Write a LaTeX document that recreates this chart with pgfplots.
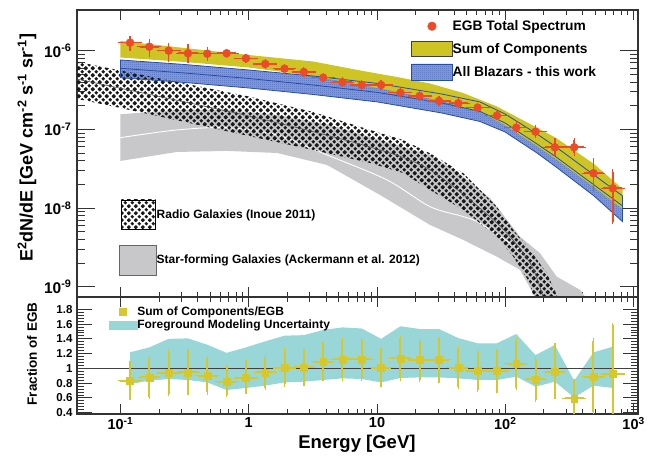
\documentclass[border=0pt]{standalone}
\usepackage{fontspec}
\setmainfont{Liberation Sans}
\usepackage{pgfplots}
\pgfplotsset{compat=1.18}
\usepackage{pgfplotstable}
\usetikzlibrary{patterns,patterns.meta}

\definecolor{egbred}{RGB}{236,74,40}
\definecolor{sumyel}{RGB}{206,196,36}
\definecolor{ratioyel}{RGB}{214,200,44}
\definecolor{fgcyan}{RGB}{152,214,216}
\definecolor{sfggray}{RGB}{200,200,203}
\definecolor{blzline}{RGB}{38,78,165}
\definecolor{blzfill}{RGB}{140,158,214}
\definecolor{blzdot}{RGB}{60,92,185}

\tikzdeclarepattern{
  name=rgdiam, type=uncolored,
  bounding box={(0pt,0pt) and (7.2pt,7.2pt)},
  tile size={(7.2pt,7.2pt)},
  code={
    \fill (0pt,-2pt) -- (2pt,0pt) -- (0pt,2pt) -- (-2pt,0pt) -- cycle;
    \fill (7.2pt,-2pt) -- (9.2pt,0pt) -- (7.2pt,2pt) -- (5.2pt,0pt) -- cycle;
    \fill (0pt,5.2pt) -- (2pt,7.2pt) -- (0pt,9.2pt) -- (-2pt,7.2pt) -- cycle;
    \fill (7.2pt,5.2pt) -- (9.2pt,7.2pt) -- (7.2pt,9.2pt) -- (5.2pt,7.2pt) -- cycle;
    \fill (3.6pt,1.6pt) -- (5.6pt,3.6pt) -- (3.6pt,5.6pt) -- (1.6pt,3.6pt) -- cycle;
  }
}
\tikzdeclarepattern{
  name=blzpat, type=uncolored,
  bounding box={(0pt,0pt) and (2pt,2pt)},
  tile size={(2pt,2pt)},
  code={
    \fill (0pt,0pt) rectangle (0.9pt,0.9pt);
    \fill (1pt,1pt) rectangle (1.9pt,1.9pt);
  }
}

% EGB total spectrum: E [GeV], flux, upper, lower
\pgfplotstableread{
E F Fhi Flo
0.1189 1.264e-6 1.44e-6 1.073e-6
0.1681 1.124e-6 1.328e-6 0.882e-6
0.2378 1.000e-6 1.157e-6 0.778e-6
0.3363 0.927e-6 1.124e-6 0.755e-6
0.4756 0.916e-6 1.051e-6 0.785e-6
0.6726 0.927e-6 0.991e-6 0.856e-6
0.9511 0.800e-6 0.856e-6 0.740e-6
1.345 0.678e-6 0.730e-6 0.630e-6
1.902 0.590e-6 0.635e-6 0.548e-6
2.690 0.536e-6 0.577e-6 0.498e-6
3.804 0.454e-6 0.489e-6 0.422e-6
5.379 0.397e-6 0.427e-6 0.369e-6
7.607 0.366e-6 0.394e-6 0.340e-6
10.76 0.366e-6 0.394e-6 0.340e-6
15.21 0.2925e-6 0.3147e-6 0.2718e-6
21.51 0.2657e-6 0.2859e-6 0.2469e-6
30.42 0.2296e-6 0.2470e-6 0.2134e-6
43.02 0.2146e-6 0.2309e-6 0.1994e-6
60.83 0.1887e-6 0.2030e-6 0.1754e-6
86.03 0.1493e-6 0.1606e-6 0.1388e-6
121.7 0.1051e-6 0.1148e-6 0.0962e-6
172.0 0.0935e-6 0.1051e-6 0.0832e-6
243.3 0.0592e-6 0.0719e-6 0.0497e-6
344.1 0.0592e-6 0.0733e-6 0.0497e-6
486.6 0.02767e-6 0.0400e-6 0.01699e-6
688.1 0.01785e-6 0.0290e-6 0.00672e-6
}\egbtable

% Ratio (sum of components / EGB)
\pgfplotstableread{
E R Rhi Rlo
0.1189 0.833 1.068 0.600
0.1681 0.878 1.135 0.617
0.2378 0.938 1.226 0.653
0.3363 0.946 1.230 0.667
0.4756 0.901 1.135 0.675
0.6726 0.820 1.014 0.640
0.9511 0.870 1.077 0.690
1.345 0.946 1.158 0.735
1.902 1.005 1.240 0.783
2.690 1.014 1.230 0.790
3.804 1.091 1.330 0.856
5.379 1.122 1.385 0.865
7.607 1.122 1.385 0.865
10.76 1.010 1.240 0.775
15.21 1.135 1.406 0.865
21.51 1.114 1.375 0.843
30.42 1.118 1.389 0.833
43.02 1.010 1.270 0.752
60.83 0.965 1.217 0.712
86.03 0.965 1.236 0.694
121.7 1.064 1.375 0.735
172.0 0.851 1.127 0.576
243.3 0.955 1.317 0.613
344.1 0.594 0.824 0.300
486.6 0.888 1.375 0.414
688.1 0.924 1.582 0.300
}\ratiotable

\begin{document}
\begin{tikzpicture}
\useasboundingbox (0pt,0pt) rectangle (656pt,457pt);

% ---------------- upper panel ----------------
\begin{axis}[
  at={(77pt,160pt)}, anchor=south west,
  width=561pt, height=287pt, scale only axis,
  xmode=log, ymode=log,
  xmin=0.04588, xmax=1082, ymin=7.396e-10, ymax=3.291e-6,
  xtick={0.1,1,10,100,1000},
  xticklabels={},
  ytick={1e-9,1e-8,1e-7,1e-6},
  yticklabels={10\textsuperscript{-9},10\textsuperscript{-8},10\textsuperscript{-7},10\textsuperscript{-6}},
  tick align=inside,
  axis line style={line width=1.1pt, black!80},
  every tick/.style={black!80, line width=0.9pt},
  major tick length=10pt, minor tick length=5pt,
  ytick style={/pgfplots/major tick length=18pt,/pgfplots/minor tick length=8pt},
  yticklabel style={font=\bfseries\fontsize{15.5}{16}\selectfont, xshift=-2pt},
  ylabel={E\textsuperscript{2}dN/dE [GeV cm\textsuperscript{-2} s\textsuperscript{-1} sr\textsuperscript{-1}]},
  ylabel style={font=\bfseries\fontsize{18}{20}\selectfont, at={(axis description cs:-0.089,0.52)}, anchor=center},
  legend style={at={(0.5954,0.9756)}, anchor=north west, draw=none, fill=none,
    inner sep=0pt, row sep=5pt, nodes={inner sep=0pt},
    font=\bfseries\fontsize{13.8}{16}\selectfont,
    /tikz/every even column/.append style={column sep=9pt}},
  legend cell align=left,
]
\addlegendimage{legend image code/.code={\path[draw=none,fill=none] (0pt,-9pt) rectangle (40.7pt,9pt); \fill[egbred] (20.35pt,0pt) circle (4.3pt);}}
\addlegendentry{EGB Total Spectrum}
\addlegendimage{legend image code/.code={\path[draw=none,fill=none] (0pt,-9pt) rectangle (40.7pt,9pt); \draw[fill=sumyel, draw=black!75, line width=0.8pt] (0pt,-7.5pt) rectangle (40.7pt,7.5pt);}}
\addlegendentry{Sum of Components}
\addlegendimage{legend image code/.code={\path[draw=none,fill=none] (0pt,-9pt) rectangle (40.7pt,9pt); \draw[fill=blzfill, draw=blzline, line width=0.8pt, postaction={pattern=blzpat, pattern color=blzdot}] (0pt,-8.3pt) rectangle (40.7pt,8.3pt);}}
\addlegendentry{All Blazars - this work}

% star-forming galaxies band
\addplot[forget plot, draw=none, fill=sfggray] coordinates {
 (0.1,0.1555e-6) (0.276,0.1764e-6) (0.678,0.1764e-6) (1.662,0.1524e-6) (4.30,0.1137e-6)
 (10.55,0.0733e-6) (25.88,0.0473e-6) (41.8,0.0290e-6) (75.98,0.01344e-6) (130.2,0.00433e-6)
 (186.4,0.002666e-6) (251.5,0.001344e-6) (382.1,0.000911e-6) (418.0,0.000749e-6) (457.2,0.000622e-6)
 (186.4,0.000587e-6) (170.4,0.000742e-6) (130.2,0.001635e-6) (85.7,0.002413e-6)
 (47.06,0.00393e-6) (25.88,0.0061e-6) (10.55,0.01467e-6) (4.076,0.0353e-6) (1.662,0.0501e-6)
 (0.678,0.0532e-6) (0.276,0.0516e-6) (0.1,0.0397e-6)
} -- cycle;
\addplot[forget plot, white, line width=0.9pt, smooth] coordinates {
 (0.1,0.0785e-6) (0.276,0.0983e-6) (0.678,0.1051e-6) (1.662,0.0849e-6) (4.076,0.0473e-6)
 (11.97,0.02276e-6) (25.88,0.01042e-6) (47.06,0.00778e-6) (63.5,0.00641e-6) (130.2,0.002935e-6)
};

% blazar band fill
\addplot[forget plot, draw=none, fill=blzfill, postaction={pattern=blzpat, pattern color=blzdot}] coordinates {
 (0.1,0.7619e-6) (0.3165,0.6678e-6) (1,0.5684e-6) (3.17,0.4770e-6) (10.13,0.3831e-6)
 (31.88,0.2818e-6) (63.5,0.2229e-6) (99.5,0.1570e-6) (176.6,0.0874e-6) (248.5,0.0597e-6)
 (491.3,0.02634e-6) (820,0.01425e-6)
 (820,0.00672e-6) (491.3,0.01425e-6) (248.5,0.0333e-6) (176.6,0.0501e-6) (99.5,0.0927e-6)
 (63.5,0.1260e-6) (31.88,0.1616e-6) (10.13,0.2229e-6) (3.17,0.2777e-6) (1,0.3358e-6)
 (0.3165,0.3945e-6) (0.1,0.4538e-6)
} -- cycle;

% radio galaxies band
\addplot[forget plot, draw=none, pattern=rgdiam, pattern color=black!90] coordinates {
 (0.04,0.757e-6) (0.1,0.5602e-6) (0.3165,0.3831e-6) (1,0.2618e-6) (3.17,0.1664e-6)
 (8.82,0.0983e-6) (15.95,0.0733e-6) (25.88,0.0497e-6) (47.06,0.02767e-6) (85.7,0.01042e-6)
 (115.4,0.00527e-6) (155.8,0.002935e-6) (210.2,0.001484e-6) (251.5,0.000787e-6) (266.9,0.000641e-6)
 (173.5,0.000587e-6) (165.3,0.000749e-6) (155.8,0.001108e-6) (115.4,0.002413e-6) (85.7,0.00433e-6)
 (47.06,0.00946e-6) (25.88,0.01698e-6) (15.95,0.0279e-6) (8.82,0.0374e-6) (3.17,0.0547e-6)
 (1,0.0824e-6) (0.3165,0.1242e-6) (0.1,0.1870e-6) (0.04,0.2558e-6)
} -- cycle;
\addplot[forget plot, black!70, line width=0.6pt, smooth] coordinates {
 (0.04,0.4565e-6) (1,0.1480e-6) (8.82,0.0597e-6) (25.88,0.0305e-6) (85.7,0.00647e-6)
 (155.8,0.002007e-6) (196.7,0.000742e-6)
};

% sum of components band
\addplot[forget plot, draw=none, fill=sumyel] coordinates {
 (0.1,1.328e-6) (0.3165,1.082e-6) (1,0.8817e-6) (3.17,0.7292e-6) (7.78,0.5520e-6)
 (14.32,0.4632e-6) (25.88,0.3831e-6) (46.8,0.2901e-6) (86.1,0.1954e-6) (155.8,0.1171e-6)
 (248.5,0.0778e-6) (349.4,0.0532e-6) (491.3,0.0363e-6) (820,0.01749e-6)
 (820,0.00974e-6) (491.3,0.01854e-6) (248.5,0.0421e-6) (176.6,0.0615e-6) (99.5,0.1137e-6)
 (63.5,0.1664e-6) (31.88,0.2296e-6) (10.13,0.3358e-6) (3.17,0.4770e-6) (1,0.6117e-6)
 (0.3165,0.7187e-6) (0.1,0.8194e-6)
} -- cycle;

% blazar band outline and central line
\addplot[forget plot, blzline, line width=0.8pt] coordinates {
 (0.1,0.7619e-6) (0.3165,0.6678e-6) (1,0.5684e-6) (3.17,0.4770e-6) (10.13,0.3831e-6)
 (31.88,0.2818e-6) (63.5,0.2229e-6) (99.5,0.1570e-6) (176.6,0.0874e-6) (248.5,0.0597e-6)
 (491.3,0.02634e-6) (820,0.01425e-6)
 (820,0.00672e-6) (491.3,0.01425e-6) (248.5,0.0333e-6) (176.6,0.0501e-6) (99.5,0.0927e-6)
 (63.5,0.1260e-6) (31.88,0.1616e-6) (10.13,0.2229e-6) (3.17,0.2777e-6) (1,0.3358e-6)
 (0.3165,0.3945e-6) (0.1,0.4538e-6)
} -- cycle;
\addplot[forget plot, blzline, line width=0.8pt] coordinates {
 (0.1,0.5975e-6) (0.3165,0.5207e-6) (1,0.4433e-6) (3.17,0.3665e-6) (10.13,0.2944e-6)
 (31.88,0.2165e-6) (63.5,0.1689e-6) (99.5,0.1206e-6) (176.6,0.0652e-6) (248.5,0.0446e-6)
 (491.3,0.01966e-6) (820,0.01063e-6)
};

% EGB data
\addplot[forget plot, only marks, mark=*, mark size=4pt, color=egbred,
  error bars/.cd, x dir=both, x explicit, y dir=both, y explicit,
  error bar style={line width=1.6pt, egbred},
  error mark options={egbred, mark size=2.3pt, line width=1.3pt}]
  table[x=E, y=F,
    x error plus expr=\thisrow{E}*0.1893, x error minus expr=\thisrow{E}*0.1592,
    y error plus expr=\thisrow{Fhi}-\thisrow{F}, y error minus expr=\thisrow{F}-\thisrow{Flo}] {\egbtable};
\end{axis}

% legend for radio / star-forming galaxies
\begin{axis}[
  at={(77pt,160pt)}, anchor=south west,
  width=561pt, height=287pt, scale only axis, hide axis,
  xmin=0, xmax=1, ymin=0, ymax=1,
  legend style={at={(0.0749,0.3404)}, anchor=north west, draw=none, fill=none,
    inner sep=0pt, row sep=15pt, nodes={inner sep=0pt},
    font=\bfseries\fontsize{12}{14}\selectfont,
    /tikz/every even column/.append style={column sep=7.3pt}},
  legend cell align=left,
]
\addlegendimage{legend image code/.code={\path[draw=none,fill=none] (0pt,-15pt) rectangle (36.7pt,15pt); \fill[pattern=rgdiam, pattern color=black!90] (1.7pt,-14.6pt) rectangle (36pt,14.6pt);}}
\addlegendentry{Radio Galaxies (Inoue 2011)}
\addlegendimage{legend image code/.code={\draw[fill=sfggray, draw=black!60, line width=0.8pt] (0pt,-15pt) rectangle (36.7pt,15pt);}}
\addlegendentry{Star-forming Galaxies (Ackermann et al. 2012)}
\end{axis}

% ---------------- lower panel ----------------
\begin{axis}[
  at={(77pt,43pt)}, anchor=south west,
  width=561pt, height=117pt, scale only axis,
  xmode=log,
  xmin=0.04588, xmax=1082, ymin=0.3824, ymax=1.9666,
  xtick={0.1,1,10,100,1000},
  xticklabels={10\textsuperscript{-1},1,10,10\textsuperscript{2},10\textsuperscript{3}},
  ytick={0.4,0.6,0.8,1,1.2,1.4,1.6,1.8},
  yticklabels={0.4,0.6,0.8,1,1.2,1.4,1.6,1.8},
  minor y tick num=4,
  tick align=inside,
  axis line style={line width=1.1pt, black!80},
  every tick/.style={black!80, line width=0.9pt},
  major tick length=10pt, minor tick length=5pt,
  ytick style={/pgfplots/major tick length=15pt,/pgfplots/minor tick length=7pt},
  xticklabel style={font=\bfseries\fontsize{14.5}{15}\selectfont},
  yticklabel style={font=\bfseries\fontsize{11.5}{12}\selectfont, xshift=-1pt},
  xlabel={Energy [GeV]},
  xlabel style={font=\bfseries\fontsize{18.5}{20}\selectfont, at={(axis description cs:0.499,-0.256)}, anchor=center},
  ylabel={Fraction of EGB},
  ylabel style={font=\bfseries\fontsize{13.5}{15}\selectfont, at={(axis description cs:-0.080,0.513)}, anchor=center},
  legend style={at={(0.0558,0.917)}, anchor=north west, draw=none, fill=none,
    inner sep=0pt, row sep=3pt, nodes={inner sep=0pt},
    font=\bfseries\fontsize{12}{14}\selectfont,
    /tikz/every even column/.append style={column sep=6pt}},
  legend cell align=left,
]
\addlegendimage{legend image code/.code={\path[draw=none,fill=none] (0pt,-5pt) rectangle (28.4pt,5pt); \fill[ratioyel] (10.4pt,-3.4pt) rectangle (17.2pt,3.4pt);}}
\addlegendentry{Sum of Components/EGB}
\addlegendimage{legend image code/.code={\path[draw=none,fill=none] (0pt,-5pt) rectangle (28.4pt,5pt); \fill[fgcyan] (0pt,-4.3pt) rectangle (28.4pt,4.3pt);}}
\addlegendentry{Foreground Modeling Uncertainty}

\addplot[forget plot, draw=none, fill=fgcyan] coordinates {
 (0.1189,1.217) (0.1681,1.284) (0.2378,1.400) (0.3363,1.406) (0.4756,1.320) (0.6726,1.210)
 (0.9511,1.284) (1.345,1.366) (1.902,1.443) (2.690,1.450) (3.804,1.520) (5.379,1.555)
 (7.607,1.540) (10.76,1.400) (15.21,1.570) (21.51,1.533) (30.42,1.533) (43.02,1.410)
 (60.83,1.340) (86.03,1.340) (121.7,1.465) (172.0,1.180) (243.3,1.317) (344.1,0.833)
 (486.6,1.217) (688.1,1.294)
 (688.1,0.735) (486.6,0.766) (344.1,0.607) (243.3,0.820) (172.0,0.752) (121.7,0.888)
 (86.03,0.843) (60.83,0.843) (43.02,0.865) (30.42,0.878) (21.51,0.878) (15.21,0.870)
 (10.76,0.810) (7.607,0.856) (5.379,0.865) (3.804,0.843) (2.690,0.820) (1.902,0.810)
 (1.345,0.766) (0.9511,0.735) (0.6726,0.707) (0.4756,0.810) (0.3363,0.843) (0.2378,0.856)
 (0.1681,0.833) (0.1189,0.789)
} -- cycle;
\addplot[forget plot, black!75, line width=0.8pt] coordinates {(0.04,1) (1200,1)};
\addplot[forget plot, only marks, mark=square*, mark size=3.4pt, color=ratioyel,
  error bars/.cd, x dir=both, x explicit, y dir=both, y explicit,
  error bar style={line width=2pt, ratioyel},
  error mark options={ratioyel, mark size=2.3pt, line width=1.4pt}]
  table[x=E, y=R,
    x error plus expr=\thisrow{E}*0.1893, x error minus expr=\thisrow{E}*0.1592,
    y error plus expr=\thisrow{Rhi}-\thisrow{R}, y error minus expr=\thisrow{R}-\thisrow{Rlo}] {\ratiotable};
\end{axis}
\end{tikzpicture}
\end{document}
